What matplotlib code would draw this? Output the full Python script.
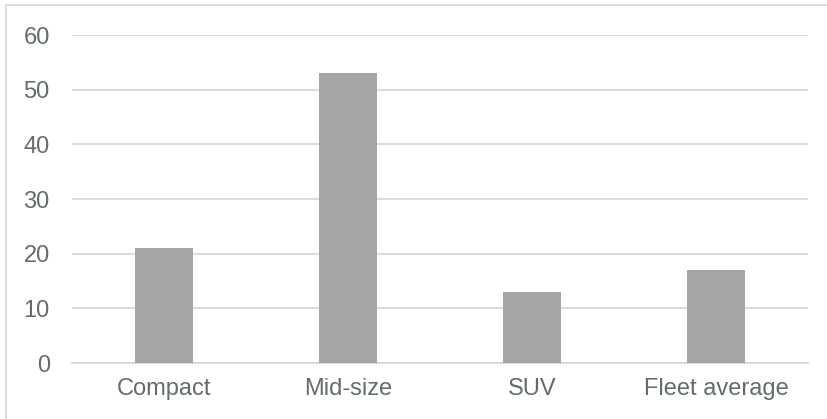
"""Bar chart by vehicle class."""

import matplotlib as mpl

mpl.use("Agg")
import matplotlib.pyplot as plt
from matplotlib.patches import Rectangle

categories = ["Compact", "Mid-size", "SUV", "Fleet average"]
values = [21, 53, 13, 17]
yticks = [0, 10, 20, 30, 40, 50, 60]

plt.rcParams["font.family"] = ["Liberation Sans", "DejaVu Sans"]

W, H = 827, 419
fig = plt.figure(figsize=(W / 100, H / 100), dpi=100)
ax = fig.add_axes([72 / W, 1 - 363 / H, (808 - 72) / W, (363 - 35) / H])

x = range(len(categories))
ax.bar(x, values, width=0.315, color="#a5a5a5", zorder=3)

ax.set_xlim(-0.5, len(categories) - 0.5)
ax.set_ylim(0, 60)
ax.set_yticks(yticks)
ax.set_xticks(list(x))
ax.set_xticklabels(categories)
ax.grid(axis="y", color="#d9d9d9", linewidth=1.3, zorder=0)
for side in ["top", "right", "left"]:
    ax.spines[side].set_visible(False)
ax.spines["bottom"].set_color("#d9d9d9")
ax.spines["bottom"].set_linewidth(1.3)

text_color = "#646c6a"
ax.tick_params(axis="y", length=0, pad=16, labelsize=17, labelcolor=text_color)
ax.tick_params(axis="x", length=0, pad=11, labelsize=17, labelcolor=text_color)

# chart frame, cut off on the right and bottom like the reference
fig.patches.append(
    Rectangle(
        (5.5 / W, -0.1),
        1.2,
        1.1 - 5.5 / H,
        transform=fig.transFigure,
        fill=False,
        edgecolor="#d9d9d9",
        linewidth=1.3,
    )
)

fig.savefig("out.png", dpi=100)
